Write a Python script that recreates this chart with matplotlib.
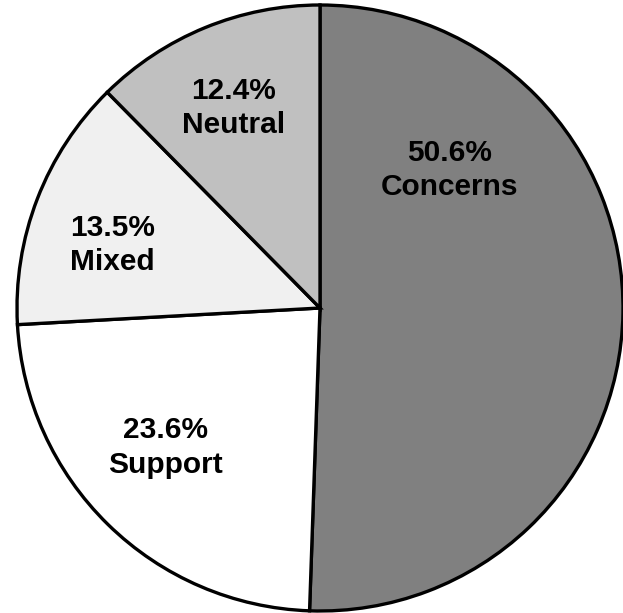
import matplotlib

matplotlib.use("Agg")
import matplotlib.pyplot as plt

# Share of responses by stance, clockwise from 12 o'clock
categories = ["Concerns", "Support", "Mixed", "Neutral"]
shares = [50.6, 23.6, 13.5, 12.4]
colors = ["#808080", "#ffffff", "#f0f0f0", "#c0c0c0"]

# Label anchors (data coordinates, pie radius = 1)
label_pos = {
    "Concerns": (0.426, 0.455),
    "Support": (-0.51, -0.46),
    "Mixed": (-0.686, 0.208),
    "Neutral": (-0.284, 0.66),
}

plt.rcParams["font.family"] = ["Liberation Sans", "DejaVu Sans"]

fig = plt.figure(figsize=(6.23, 6.13), dpi=100)
ax = fig.add_axes([17 / 623, 2 / 613, 606 / 623, 606 / 613])
ax.pie(
    shares,
    colors=colors,
    startangle=90,
    counterclock=False,
    radius=1,
    wedgeprops={"edgecolor": "black", "linewidth": 2.4},
)
for name, value in zip(categories, shares):
    x, y = label_pos[name]
    ax.text(x, y, f"{value}%\n{name}", ha="center", va="center",
            fontsize=21.5, fontweight="bold", linespacing=1.3)

ax.set_xlim(-1, 1)
ax.set_ylim(-1, 1)
ax.set_aspect("equal")
ax.axis("off")

fig.savefig("out.png", dpi=100)
